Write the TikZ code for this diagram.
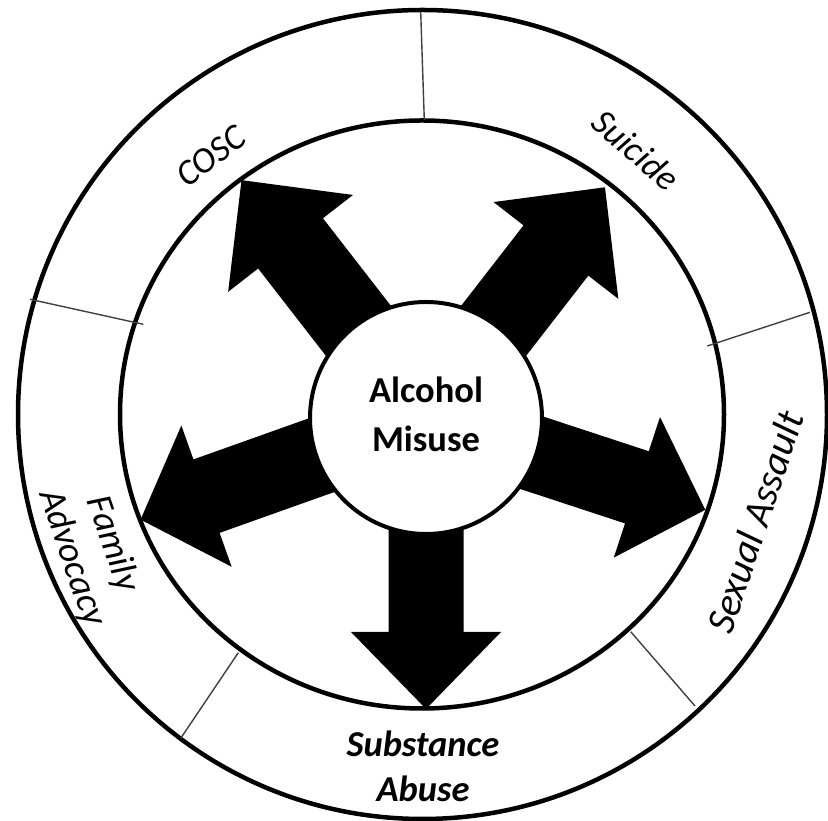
\documentclass[tikz,border=0pt]{standalone}
\usepackage{fontspec}
\setmainfont{Carlito}
\tikzset{
  ring/.style={line width=4.5pt, draw=black},
  divider/.style={line width=1.4pt, draw=black!75},
  lbl/.style={font=\itshape\fontsize{36}{42}\selectfont, inner sep=0pt, align=center},
  sublbl/.style={font=\bfseries\itshape\fontsize{36.5}{42}\selectfont, inner sep=0pt, anchor=base},
  ctr/.style={font=\bfseries\fontsize{36.5}{48}\selectfont, inner sep=0pt, anchor=base},
}
% angle, start radius, tip distance, shaft half-width, head half-width, head length
\newcommand\blockarr[6]{%
  \begin{scope}[shift={(426,403)}, rotate=#1]
    \fill[black] (#2,#4) -- ({#3-#6},#4) -- ({#3-#6},#5) -- (#3,0)
      -- ({#3-#6},-#5) -- ({#3-#6},-#4) -- (#2,-#4) -- cycle;
  \end{scope}}
\begin{document}
\begin{tikzpicture}[x=1pt, y=1pt]
  \useasboundingbox (0,0) rectangle (828,821);
  \fill[white] (0,0) rectangle (828,821);
  % rings
  \draw[ring] (422.5,406.5) circle[radius=404.5pt];
  \draw[ring] (422,406.5) ellipse[x radius=302pt, y radius=294pt];
  % dividers
  \coordinate (d1a) at (420.7,809.3); \coordinate (d1b) at (424.3,701);
  \coordinate (d2a) at (30,521.7);    \coordinate (d2b) at (143.3,496.7);
  \coordinate (d3a) at (707.3,475);   \coordinate (d3b) at (810,508.7);
  \coordinate (d4a) at (630.7,189.3); \coordinate (d4b) at (695,115);
  \coordinate (d5a) at (238.3,168.3); \coordinate (d5b) at (180.7,82.7);
  \draw[divider] (d1a) -- (d1b);
  \draw[divider] (d2a) -- (d2b);
  \draw[divider] (d3a) -- (d3b);
  \draw[divider] (d4a) -- (d4b);
  \draw[divider] (d5a) -- (d5b);
  % block arrows
  \blockarr{270}{60}{291}{37.5}{75}{77}
  \blockarr{341.8}{60}{294}{38}{74}{72}
  \blockarr{52.2}{60}{292}{41}{79}{80}
  \blockarr{127.8}{60}{301}{41}{79}{80}
  \blockarr{199.6}{60}{303}{39}{75}{70}
  % hub
  \node[circle, draw=black, line width=4pt, fill=white, minimum size=232pt, inner sep=0pt] (hub) at (426,403) {};
  \node[ctr] (alc1) at (426,418) {Alcohol};
  \node[ctr] (alc2) at (426,369) {Misuse};
  % labels
  \node[lbl, rotate=37] (cosc) at (211,665) {COSC};
  \node[lbl, rotate=-41.5] (suic) at (636,671) {Suicide};
  \node[lbl, rotate=71.5, font=\itshape\fontsize{40}{46}\selectfont] (sexa) at (755,299) {Sexual Assault};
  \node[lbl, rotate=-71, font=\itshape\fontsize{37}{43}\selectfont] (fama) at (92,270) {Family\\Advocacy};
  \node[sublbl] (sub1) at (423,64) {Substance};
  \node[sublbl] (sub2) at (423,19) {Abuse};
\end{tikzpicture}
\end{document}
